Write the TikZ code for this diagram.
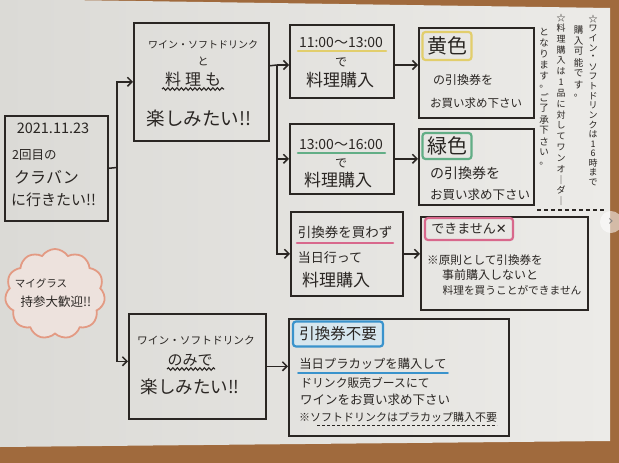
\documentclass[tikz,border=0pt]{standalone}
\usepackage{fontspec}
\setmainfont{Noto Sans CJK JP}
\newfontfamily\dejavu{DejaVu Sans}
\usetikzlibrary{arrows.meta,shapes.symbols,decorations.pathmorphing}
\definecolor{ink}{HTML}{2A2623}
\definecolor{paperL}{HTML}{DBDAD6}
\definecolor{paperR}{HTML}{ECEBE8}
\definecolor{wood}{HTML}{A06A3D}
\definecolor{hlyellow}{HTML}{E2CE6C}
\definecolor{hlgreen}{HTML}{62AE86}
\definecolor{hlpink}{HTML}{D8688C}
\definecolor{hlblue}{HTML}{3A93CC}
\definecolor{paleblue}{HTML}{D6E6EE}
\definecolor{salmon}{HTML}{E39A83}
\definecolor{cloudfill}{HTML}{EDE2DD}
\newcommand\fsz[1]{\fontsize{#1}{#1}\selectfont}
\makeatletter
\newcommand\vstk[2]{\vbox{\offinterlineskip\def\vpitch{#1}\vstk@#2\relax}}
\def\vstk@#1{\ifx\relax#1\else\hbox to 1em{\hss\vbox to \vpitch{\vss\hbox{#1}\vss}\hss}\expandafter\vstk@\fi}
\makeatother
\begin{document}
\begin{tikzpicture}[x=1pt,y=-1pt,
  box/.style={draw=ink, line width=1.6pt, inner sep=0pt, anchor=north west},
  wire/.style={draw=ink, line width=1.5pt},
  arr/.style={wire, -{Straight Barb[length=4.5pt,width=9pt]}},
  lbl/.style={inner sep=0pt, text=ink},
  tag/.style={rounded corners=3pt, line width=2.2pt, inner sep=0pt, text=ink},
  hlline/.style={line width=2.6pt, line cap=round},
  wavy/.style={draw=ink, line width=1.1pt, decorate, decoration={snake, amplitude=1.3pt, segment length=4.5pt}}]
\useasboundingbox (0,0) rectangle (619,463);
% background: wood and paper
\fill[wood] (0,0) rectangle (619,463);
\shade[left color=paperL, right color=paperR] (0,-1) -- (610,8) -- (610,441) -- (0,447) -- cycle;

% boxes
\node[box, minimum width=103pt, minimum height=105pt] (start) at (4,115) {};
\node[box, minimum width=135pt, minimum height=118pt] (A) at (133,22) {};
\node[box, minimum width=137pt, minimum height=105pt] (B) at (128,313) {};
\node[box, minimum width=104pt, minimum height=73pt] (b1) at (289,24) {};
\node[box, minimum width=115pt, minimum height=90pt] (b1r) at (418,27) {};
\node[box, minimum width=104pt, minimum height=70pt] (b2) at (289,123) {};
\node[box, minimum width=115pt, minimum height=76pt] (b2r) at (418,128) {};
\node[box, minimum width=112pt, minimum height=84pt] (b3) at (290,211) {};
\node[box, minimum width=167pt, minimum height=93pt] (b3r) at (420,216) {};
\node[box, minimum width=220pt, minimum height=117pt] (b4) at (288,318) {};

% cloud
\node[cloud, cloud puffs=11, cloud puff arc=115, cloud ignores aspect, draw=salmon, fill=cloudfill,
      line width=1.8pt, minimum width=100pt, minimum height=90pt, inner sep=0pt] (cl) at (55,294) {};
\node[lbl, font=\fsz{10.5}] (c1) at (41,283) {マイグラス};
\node[lbl, font=\fsz{12.5}] (c2) at (56,302) {持参大歓迎!!};

% connectors
\coordinate (jL) at (117,167.5);
\draw[wire] (start.east) -- (jL);
\draw[arr] (jL) |- (A.west);
\draw[arr] (jL) |- ([yshift=5pt]B.west);
\coordinate (jR) at (277,65);
\draw[wire] ([yshift=16pt]A.east) -- (jR);
\draw[arr] (jR) -- (jR -| b1.west);
\draw[arr] (jR) |- (b2.west);
\draw[arr] (jR) |- (b3.west);
\draw[arr] (b1.east |- jR) -- (b1r.west |- jR);
\draw[arr] (b2.east) -- (b2.east -| b2r.west);
\draw[arr] (b3.east) -- (b3.east -| b3r.west);
\draw[arr] (B.east) -- (B.east -| b4.west);

% start box text
\node[lbl, font=\fsz{14.5}] (s1) at (53,128) {2021.11.23};
\node[lbl, font=\fsz{12.5}, anchor=west] (s2) at (12,155) {2回目の};
\node[lbl, font=\fsz{16}, anchor=west] (s3) at (14,177) {クラバン};
\node[lbl, font=\fsz{15}, anchor=west] (s4) at (11,200) {に行きたい!!};

% box A
\node[lbl, font=\fsz{10}] (a1) at (203,45) {ワイン・ソフトドリンク};
\node[lbl, font=\fsz{11}] (a2) at (203,61) {と};
\node[lbl, font=\fsz{16}] (a3) at (193,79) {料\hspace{4pt}理\hspace{4pt}も};
\draw[wavy] (162,89) -- (224,89);
\node[lbl, font=\fsz{18.5}] (a4) at (199,118) {楽しみたい!!};

% box B
\node[lbl, font=\fsz{10.7}] (bb1) at (196,340) {ワイン・ソフトドリンク};
\node[lbl, font=\fsz{15}] (bb2) at (190,360) {のみで};
\draw[wavy] (167,369) -- (215,369);
\node[lbl, font=\fsz{17.5}] (bb3) at (190,387) {楽しみたい!!};

% box 1
\draw[hlline, draw=hlyellow] (298,51) -- (386,51);
\node[lbl, font=\fsz{14}] (t1a) at (341,43) {11:00〜13:00};
\node[lbl, font=\fsz{12}] (t1b) at (341,62) {で};
\node[lbl, font=\fsz{17}] (t1c) at (340,80) {料理購入};
% box 1r
\node[tag, draw=hlyellow, minimum width=49pt, minimum height=28pt, font=\fsz{20}] (y1) at (447,46) {黄色};
\node[lbl, font=\fsz{12}] (y2) at (463,80) {の引換券を};
\node[lbl, font=\fsz{11.5}] (y3) at (476,103) {お買い求め下さい};

% box 2
\draw[hlline, draw=hlgreen] (298,153) -- (385,153);
\node[lbl, font=\fsz{14}] (t2a) at (341,145) {13:00〜16:00};
\node[lbl, font=\fsz{12}] (t2b) at (341,163) {で};
\node[lbl, font=\fsz{17}] (t2c) at (338,180) {料理購入};
% box 2r
\node[tag, draw=hlgreen, minimum width=49pt, minimum height=26pt, font=\fsz{20}] (g1) at (447,146) {緑色};
\node[lbl, font=\fsz{14}] (g2) at (465,173) {の引換券を};
\node[lbl, font=\fsz{12.5}] (g3) at (480,195) {お買い求め下さい};

% box 3
\draw[hlline, draw=hlpink] (297,243) -- (393,243);
\node[lbl, font=\fsz{13.5}] (t3a) at (345,232) {引換券を買わず};
\node[lbl, font=\fsz{13}] (t3b) at (330,258) {当日行って};
\node[lbl, font=\fsz{17}] (t3c) at (336,280) {料理購入};
% box 3r
\node[tag, draw=hlpink, minimum width=88pt, minimum height=22pt, font=\fsz{13}] (p1) at (469,229) {できません{\dejavu ✕}};
\node[lbl, font=\fsz{11.6}] (p2) at (485,260) {※原則として引換券を};
\node[lbl, font=\fsz{12}] (p3) at (490,275) {事前購入しないと};
\node[lbl, font=\fsz{10.7}] (p4) at (512,290) {料理を買うことができません};

% box 4
\node[tag, draw=hlblue, fill=paleblue, minimum width=90pt, minimum height=25pt, font=\fsz{15.5}] (q1) at (338,334) {引換券不要};
\draw[hlline, draw=hlblue, line width=1.8pt] (298,373) -- (448,373);
\node[lbl, font=\fsz{12.3}] (q2) at (373,364) {当日プラカップを購入して};
\node[lbl, font=\fsz{11.8}] (q3) at (365,383) {ドリンク販売ブースにて};
\node[lbl, font=\fsz{12.5}] (q4) at (375,400) {ワインをお買い求め下さい};
\node[lbl, font=\fsz{11}] (q5) at (398,417) {※ソフトドリンクはプラカップ購入不要};
\draw[draw=ink, line width=1pt, dash pattern=on 3pt off 2pt] (317,425) -- (497,425);

% vertical notes
\node[lbl, font=\fsz{9}, anchor=north] (v1) at (593,14) {\vstk{9.6pt}{☆ワイン・ソフトドリンクは16時まで}};
\node[lbl, font=\fsz{9.5}, anchor=north] (v2) at (578.5,24) {\vstk{11pt}{購入可能です。}};
\node[lbl, font=\fsz{9}, anchor=north] (v3) at (561,12) {\vstk{10.8pt}{☆料理購入は1品に対してワンオ｜ダ｜}};
\node[lbl, font=\fsz{9.5}, anchor=north] (v4) at (544,26) {\vstk{11pt}{となります。ご了承下さい。}};
\draw[draw=ink, line width=1.2pt, dash pattern=on 4pt off 3pt] (537,210) -- (606,210);

% overlay button
\node[circle, fill=white, fill opacity=0.55, minimum size=22pt, inner sep=0pt, text=gray, text opacity=1, font=\fsz{14}] (ig) at (611,222) {\dejavu ›};
\end{tikzpicture}
\end{document}
